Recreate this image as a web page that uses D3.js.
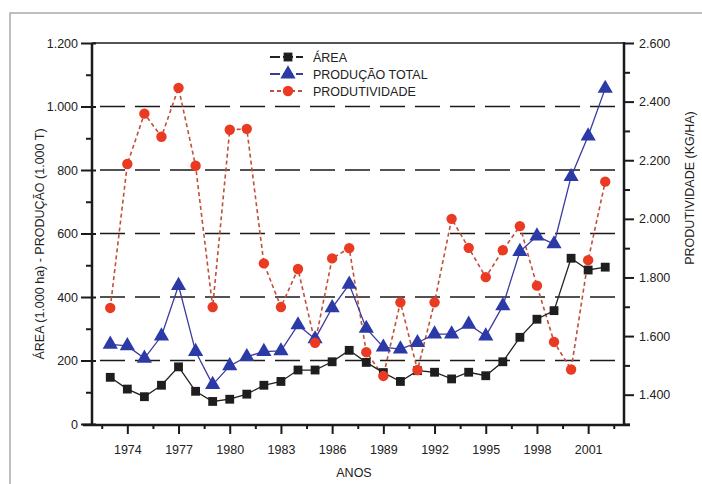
<!DOCTYPE html>
<html>
<head>
<meta charset="utf-8">
<script src="https://cdn.jsdelivr.net/npm/d3@7"></script>
<style>
  body { margin: 0; background: #fff; }
  text { font-family: "Liberation Sans", Arial, sans-serif; fill: #222; }
</style>
</head>
<body>
<div id="chart"></div>
<script>
// data
var years = [1973, 1974, 1975, 1976, 1977, 1978, 1979, 1980, 1981, 1982, 1983, 1984, 1985, 1986, 1987,
  1988, 1989, 1990, 1991, 1992, 1993, 1994, 1995, 1996, 1997, 1998, 1999, 2000, 2001, 2002];
var area = [147, 110, 86, 122, 180, 103, 71, 78, 94, 122, 134, 170, 170, 196, 232,
  194, 162, 134, 168, 163, 142, 163, 152, 196, 273, 330, 357, 522, 485, 494];
var producao = [251, 246, 207, 277, 436, 228, 124, 183, 212, 228, 230, 312, 268, 366, 440,
  301, 242, 236, 256, 283, 283, 314, 277, 372, 543, 592, 567, 779, 907, 1057];
var produtividade = [1.696, 2.187, 2.359, 2.280, 2.447, 2.181, 1.699, 2.304, 2.307, 1.848, 1.699, 1.829, 1.577, 1.865, 1.900,
  1.545, 1.464, 1.715, 1.484, 1.715, 2.000, 1.901, 1.801, 1.893, 1.975, 1.772, 1.580, 1.486, 1.859, 2.127];
var leftTicks = [0, 200, 400, 600, 800, 1000, 1200];
var rightTicks = [1.4, 1.6, 1.8, 2.0, 2.2, 2.4, 2.6];
var yearTicks = [1974, 1977, 1980, 1983, 1986, 1989, 1992, 1995, 1998, 2001];
var gridValues = [200, 400, 600, 800, 1000];
var legendNames = ["ÁREA", "PRODUÇÃO TOTAL", "PRODUTIVIDADE"];

var width = 702, height = 484;
var plotLeft = 92, plotRight = 624, plotTop = 43, plotBottom = 424;

var svg = d3.select("#chart").append("svg")
  .attr("width", width)
  .attr("height", height);

// scanned page frame
svg.append("path")
  .attr("d", "M10,484V13H702")
  .attr("fill", "none")
  .attr("stroke", "#aaa")
  .attr("stroke-width", 1.5);

var x = d3.scaleLinear().domain([1971.93, 2003.1]).range([plotLeft, plotRight]);
var yL = d3.scaleLinear().domain([0, 1200]).range([plotBottom, plotTop]);
var yR = d3.scaleLinear().domain([1.3, 2.6]).range([plotBottom, plotTop]);

// dashed grid lines
svg.selectAll(".grid")
  .data(gridValues)
  .enter().append("line")
  .attr("x1", plotLeft).attr("x2", plotRight)
  .attr("y1", function (d) { return yL(d); })
  .attr("y2", function (d) { return yL(d); })
  .attr("stroke", "#1a1a1a")
  .attr("stroke-width", 1.6)
  .attr("stroke-dasharray", "25,10")
  .attr("stroke-dashoffset", -8);

// top border
svg.append("line")
  .attr("x1", plotLeft).attr("x2", plotRight)
  .attr("y1", plotTop).attr("y2", plotTop)
  .attr("stroke", "#1a1a1a").attr("stroke-width", 1.6);

// left axis
var leftAxis = d3.axisLeft(yL)
  .tickValues(d3.range(0, 1201, 100))
  .tickSize(10)
  .tickFormat(function (d) { return leftTicks.indexOf(d) >= 0 ? d3.format(",")(d).replace(",", ".") : ""; });
var gL = svg.append("g").attr("transform", "translate(" + plotLeft + ",0)").call(leftAxis);

// right axis
function isRightMajor(d) {
  return rightTicks.some(function (t) { return Math.abs(t - d) < 1e-6; });
}
var rightAxis = d3.axisRight(yR)
  .tickValues(d3.range(13, 27).map(function (k) { return k / 10; }))
  .tickSize(10)
  .tickFormat(function (d) { return isRightMajor(d) ? d3.format(".3f")(d) : ""; });
var gR = svg.append("g").attr("transform", "translate(" + plotRight + ",0)").call(rightAxis);

// bottom axis
var bottomAxis = d3.axisBottom(x)
  .tickValues(d3.range(1972.5, 2003, 1.5))
  .tickSize(10)
  .tickFormat(function (d) { return yearTicks.indexOf(d) >= 0 ? d : ""; });
var gB = svg.append("g").attr("transform", "translate(0," + plotBottom + ")").call(bottomAxis);

[gL, gR, gB].forEach(function (g) {
  g.select(".domain").remove();
  g.selectAll(".tick line").attr("stroke", "#1a1a1a").attr("stroke-width", 2);
  g.selectAll(".tick text").style("font-size", "12.5px").attr("fill", "#222");
});

// minor ticks shorter, major ticks cross the axis
gL.selectAll(".tick").each(function (d) {
  var major = leftTicks.indexOf(d) >= 0;
  d3.select(this).select("line").attr("x1", major ? 4 : 0).attr("x2", major ? -11 : -6);
});
gL.selectAll(".tick text").attr("x", -14);
gR.selectAll(".tick").each(function (d) {
  d3.select(this).select("line").attr("x1", 0).attr("x2", isRightMajor(d) ? 10 : 6);
});
gR.selectAll(".tick text").attr("x", 15);
gB.selectAll(".tick").each(function (d) {
  var major = yearTicks.indexOf(d) >= 0;
  d3.select(this).select("line").attr("y1", 0).attr("y2", major ? 10 : 5);
});
gB.selectAll(".tick text").attr("y", 21);

// axis lines
svg.append("line").attr("x1", plotLeft).attr("x2", plotLeft).attr("y1", plotTop).attr("y2", plotBottom + 1)
  .attr("stroke", "#1a1a1a").attr("stroke-width", 2.5);
svg.append("line").attr("x1", plotRight).attr("x2", plotRight).attr("y1", plotTop - 1).attr("y2", plotBottom + 1)
  .attr("stroke", "#1a1a1a").attr("stroke-width", 2.5);
svg.append("line").attr("x1", plotLeft - 9).attr("x2", plotRight + 6).attr("y1", plotBottom + 1).attr("y2", plotBottom + 1)
  .attr("stroke", "#1a1a1a").attr("stroke-width", 2.5);

// series lines
var areaLine = d3.line().x(function (d, i) { return x(years[i]); }).y(function (d) { return yL(d); });
var prodLine = d3.line().x(function (d, i) { return x(years[i]); }).y(function (d) { return yL(d); });
var ptvLine = d3.line().x(function (d, i) { return x(years[i]); }).y(function (d) { return yR(d); });

svg.append("path").datum(produtividade).attr("d", ptvLine)
  .attr("fill", "none").attr("stroke", "#c0503a").attr("stroke-width", 1.6).attr("stroke-dasharray", "4,3");
svg.append("path").datum(producao).attr("d", prodLine)
  .attr("fill", "none").attr("stroke", "#3a3aa0").attr("stroke-width", 1.3);
svg.append("path").datum(area).attr("d", areaLine)
  .attr("fill", "none").attr("stroke", "#222").attr("stroke-width", 1.3);

// markers
var sq = d3.symbol().type(d3.symbolSquare).size(78);
var tri = d3.symbol().type(d3.symbolTriangle).size(100);

svg.selectAll(".sq").data(area).enter().append("path")
  .attr("d", sq)
  .attr("transform", function (d, i) { return "translate(" + x(years[i]) + "," + yL(d) + ")"; })
  .attr("fill", "#1e1e1e");
svg.selectAll(".tri").data(producao).enter().append("path")
  .attr("d", tri)
  .attr("transform", function (d, i) { return "translate(" + x(years[i]) + "," + yL(d) + ")"; })
  .attr("fill", "#2b3aa6");
svg.selectAll(".dot").data(produtividade).enter().append("circle")
  .attr("cx", function (d, i) { return x(years[i]); })
  .attr("cy", function (d) { return yR(d); })
  .attr("r", 5.2)
  .attr("fill", "#ea3a22");

// legend
var legend = svg.append("g").attr("transform", "translate(270,57)");
var legendColors = ["#222", "#3a3aa0", "#c0503a"];
var legendDash = ["10,3", "10,3", "4,3"];
legendNames.forEach(function (name, i) {
  var g = legend.append("g").attr("transform", "translate(0," + (i * 17) + ")");
  g.append("line").attr("x1", 0).attr("x2", 33).attr("y1", 0).attr("y2", 0)
    .attr("stroke", legendColors[i]).attr("stroke-width", 1.8)
    .attr("stroke-dasharray", legendDash[i]);
  if (i === 0) g.append("path").attr("d", sq).attr("transform", "translate(18,0)").attr("fill", "#1e1e1e");
  if (i === 1) g.append("path").attr("d", tri).attr("transform", "translate(18,0)").attr("fill", "#2b3aa6");
  if (i === 2) g.append("circle").attr("cx", 18).attr("r", 5.2).attr("fill", "#ea3a22");
  g.append("text").attr("x", 43).attr("y", 4.5).style("font-size", "12.5px").text(name);
});

// axis titles
svg.append("text")
  .attr("transform", "translate(44,244) rotate(-90)")
  .attr("text-anchor", "middle")
  .style("font-size", "12.5px")
  .text("ÁREA (1.000 ha) - PRODUÇÃO (1.000 T)");
svg.append("text")
  .attr("transform", "translate(694,188) rotate(-90)")
  .attr("text-anchor", "middle")
  .style("font-size", "12.5px")
  .text("PRODUTIVIDADE (KG/HA)");
svg.append("text")
  .attr("x", 354).attr("y", 477)
  .attr("text-anchor", "middle")
  .style("font-size", "12.5px")
  .text("ANOS");
</script>
</body>
</html>
